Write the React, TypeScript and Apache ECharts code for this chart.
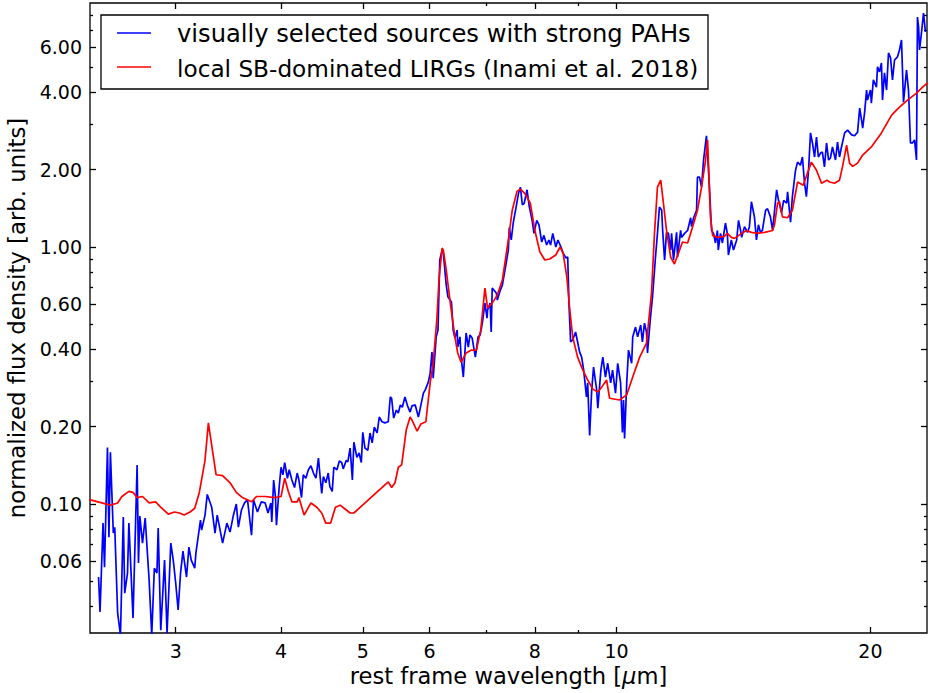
import React, { useEffect, useRef } from "react";
import * as echarts from "echarts";

// Axis ranges (wavelength in micron, normalized flux density)
const X_MIN = 2.374;
const X_MAX = 23.34;
const Y_MIN = 0.0315;
const Y_MAX = 8.9;

// Tick positions
const X_MAJOR = [3, 4, 5, 6, 8, 10, 20];
const X_MINOR = [7, 9];
const Y_MAJOR = [0.06, 0.1, 0.2, 0.4, 0.6, 1, 2, 4, 6];
const Y_MINOR = [0.04, 0.05, 0.07, 0.08, 0.09, 0.3, 0.5, 0.7, 0.8, 0.9, 3, 5, 7, 8];

// Stacked spectrum of the visually selected sources with strong PAHs
const WAVE_PAH = [
  2.43, 2.44, 2.46, 2.47, 2.49, 2.5, 2.51, 2.53, 2.54, 2.56, 2.58, 2.6, 2.61, 2.63, 2.64, 2.67, 2.7, 2.71, 2.72, 2.74,
  2.76, 2.79, 2.81, 2.83, 2.85, 2.86, 2.88, 2.91, 2.93, 2.96, 2.98, 3.0, 3.02, 3.04, 3.06, 3.09, 3.11, 3.13, 3.16, 3.17,
  3.21, 3.22, 3.25, 3.27, 3.31, 3.34, 3.36, 3.41, 3.45, 3.48, 3.51, 3.54, 3.56, 3.59, 3.62, 3.65, 3.69, 3.71, 3.75, 3.79,
  3.83, 3.86, 3.89, 3.9, 3.92, 3.94, 3.95, 3.98, 4.0, 4.02, 4.04, 4.07, 4.09, 4.12, 4.15, 4.18, 4.2, 4.23, 4.25, 4.28,
  4.31, 4.34, 4.37, 4.4, 4.43, 4.45, 4.47, 4.49, 4.52, 4.55, 4.57, 4.6, 4.62, 4.66, 4.69, 4.72, 4.74, 4.78, 4.8, 4.83,
  4.86, 4.88, 4.92, 4.95, 4.98, 5.0, 5.03, 5.07, 5.1, 5.13, 5.16, 5.2, 5.23, 5.27, 5.31, 5.36, 5.39, 5.41, 5.44, 5.48,
  5.51, 5.54, 5.57, 5.61, 5.65, 5.69, 5.72, 5.77, 5.82, 5.85, 5.9, 5.93, 5.98, 6.01, 6.04, 6.06, 6.11, 6.14, 6.17, 6.21,
  6.23, 6.28, 6.31, 6.37, 6.4, 6.43, 6.47, 6.48, 6.52, 6.54, 6.58, 6.63, 6.67, 6.7, 6.74, 6.8, 6.85, 6.89, 6.93, 6.98,
  7.02, 7.03, 7.08, 7.1, 7.12, 7.2, 7.22, 7.28, 7.32, 7.4, 7.44, 7.46, 7.5, 7.54, 7.6, 7.65, 7.69, 7.73, 7.77, 7.83,
  7.88, 7.94, 7.98, 8.04, 8.09, 8.15, 8.2, 8.26, 8.31, 8.35, 8.4, 8.47, 8.52, 8.59, 8.64, 8.71, 8.75, 8.78, 8.82, 8.87,
  8.94, 8.99, 9.04, 9.09, 9.14, 9.21, 9.24, 9.29, 9.34, 9.39, 9.47, 9.5, 9.58, 9.63, 9.7, 9.76, 9.84, 9.89, 9.97, 10.03,
  10.11, 10.16, 10.19, 10.22, 10.28, 10.33, 10.42, 10.45, 10.53, 10.59, 10.68, 10.73, 10.79, 10.85, 10.88, 10.97, 11.03,
  11.12, 11.18, 11.24, 11.31, 11.34, 11.4, 11.46, 11.52, 11.59, 11.62, 11.68, 11.78, 11.81, 11.91, 11.94, 12.04, 12.14,
  12.24, 12.27, 12.34, 12.44, 12.47, 12.54, 12.61, 12.68, 12.78, 12.82, 12.89, 12.96, 13.03, 13.1, 13.17, 13.2, 13.28,
  13.35, 13.46, 13.53, 13.57, 13.68, 13.76, 13.88, 13.95, 14.03, 14.07, 14.18, 14.3, 14.37, 14.45, 14.57, 14.65, 14.73,
  14.81, 14.89, 15.02, 15.1, 15.22, 15.31, 15.48, 15.56, 15.69, 15.78, 15.91, 15.95, 16.08, 16.16, 16.3, 16.39, 16.52,
  16.61, 16.7, 16.79, 16.89, 16.98, 17.07, 17.17, 17.26, 17.35, 17.45, 17.54, 17.64, 17.74, 17.84, 17.93, 18.03, 18.18,
  18.28, 18.38, 18.48, 18.64, 18.79, 19.0, 19.15, 19.31, 19.42, 19.52, 19.58, 19.68, 19.79, 19.84, 20.0, 20.05, 20.16,
  20.33, 20.39, 20.5, 20.61, 20.67, 20.78, 20.9, 21.01, 21.13, 21.24, 21.36, 21.53, 21.65, 21.77, 21.89, 22.07, 22.19,
  22.31, 22.43, 22.56, 22.68, 22.74, 22.81, 22.87, 22.99, 23.12, 23.24,
];
const FLUX_PAH = [
  0.052, 0.038, 0.0843, 0.0568, 0.166, 0.0743, 0.159, 0.0771, 0.0813, 0.0377, 0.0309, 0.089, 0.045, 0.0539, 0.0843, 0.036,
  0.142, 0.059, 0.0898, 0.0705, 0.0882, 0.0506, 0.0309, 0.0563, 0.0539, 0.0806, 0.0323, 0.0605, 0.0315, 0.0705, 0.0605,
  0.0493, 0.0387, 0.0539, 0.0656, 0.052, 0.068, 0.0605, 0.0563, 0.0644, 0.0866, 0.0792, 0.0906, 0.109, 0.0972, 0.0771,
  0.0906, 0.0705, 0.0843, 0.0778, 0.0898, 0.1, 0.0813, 0.0948, 0.101, 0.104, 0.0757, 0.104, 0.0931, 0.102, 0.101, 0.0923,
  0.101, 0.0851, 0.124, 0.106, 0.0828, 0.117, 0.139, 0.13, 0.145, 0.126, 0.136, 0.124, 0.116, 0.132, 0.124, 0.106, 0.13,
  0.126, 0.136, 0.141, 0.132, 0.126, 0.151, 0.128, 0.11, 0.128, 0.121, 0.132, 0.117, 0.112, 0.139, 0.136, 0.147, 0.145,
  0.137, 0.148, 0.146, 0.165, 0.124, 0.174, 0.152, 0.158, 0.145, 0.19, 0.165, 0.162, 0.189, 0.173, 0.199, 0.189, 0.218,
  0.209, 0.207, 0.209, 0.261, 0.258, 0.216, 0.232, 0.226, 0.243, 0.238, 0.261, 0.241, 0.228, 0.241, 0.243, 0.218, 0.236,
  0.27, 0.278, 0.298, 0.323, 0.39, 0.309, 0.447, 0.475, 0.89, 0.973, 0.947, 0.711, 0.639, 0.611, 0.475, 0.443, 0.475,
  0.408, 0.447, 0.373, 0.312, 0.463, 0.408, 0.455, 0.443, 0.373, 0.447, 0.455, 0.506, 0.605, 0.529, 0.569, 0.605, 0.467,
  0.692, 0.662, 0.622, 0.68, 0.711, 0.874, 0.973, 1.19, 1.065, 1.24, 1.43, 1.62, 1.71, 1.46, 1.48, 1.67, 1.43, 1.27, 1.13,
  1.27, 1.22, 1.046, 1.11, 1.018, 1.065, 1.018, 1.13, 1.0, 1.065, 1.0, 0.947, 0.906, 0.914, 0.605, 0.427, 0.435, 0.467,
  0.427, 0.39, 0.373, 0.332, 0.261, 0.296, 0.185, 0.273, 0.341, 0.278, 0.236, 0.332, 0.373, 0.312, 0.353, 0.296, 0.332,
  0.27, 0.353, 0.296, 0.19, 0.254, 0.18, 0.296, 0.397, 0.353, 0.447, 0.488, 0.447, 0.497, 0.427, 0.506, 0.467, 0.387,
  0.534, 0.639, 0.914, 1.13, 1.43, 1.39, 1.16, 0.89, 1.14, 1.13, 0.973, 1.13, 0.89, 1.14, 0.914, 1.16, 1.09, 1.13, 1.16,
  1.3, 1.2, 1.3, 1.39, 1.87, 1.87, 1.71, 2.18, 2.71, 2.32, 1.67, 1.16, 1.13, 1.037, 1.16, 0.973, 1.13, 1.037, 1.24, 1.13,
  0.931, 1.065, 0.973, 1.065, 1.27, 1.16, 1.09, 1.2, 1.14, 1.2, 1.5, 1.31, 1.065, 1.22, 1.14, 1.16, 1.39, 1.41, 1.31,
  1.16, 1.67, 1.52, 1.36, 1.52, 1.48, 1.64, 1.25, 1.57, 1.99, 2.14, 2.08, 2.24, 1.79, 1.57, 1.99, 2.78, 2.54, 2.24, 2.68,
  2.24, 2.32, 2.34, 2.05, 2.54, 2.18, 2.22, 2.45, 2.18, 2.56, 2.24, 2.45, 2.78, 2.85, 2.73, 2.71, 2.8, 3.47, 3.12, 2.9,
  3.32, 4.08, 3.73, 4.08, 3.63, 4.47, 4.19, 5.02, 4.8, 5.2, 3.73, 4.76, 4.08, 5.69, 5.44, 4.47, 5.34, 5.49, 5.84, 6.39,
  3.66, 4.88, 4.08, 2.54, 2.54, 2.61, 2.18, 7.85, 7.18, 5.84, 6.81, 8.14, 6.87,
];

// Template of local starburst-dominated LIRGs (Inami et al. 2018)
const WAVE_LIRG = [
  2.37, 2.51, 2.56, 2.59, 2.64, 2.67, 2.7, 2.74, 2.79, 2.84, 2.88, 2.94, 2.99, 3.03, 3.07, 3.12, 3.16, 3.2, 3.25, 3.28,
  3.32, 3.35, 3.41, 3.48, 3.54, 3.6, 3.69, 3.74, 3.83, 3.93, 4.0, 4.04, 4.08, 4.12, 4.18, 4.2, 4.26, 4.34, 4.41, 4.47,
  4.52, 4.58, 4.64, 4.7, 4.78, 4.83, 4.88, 5.36, 5.41, 5.46, 5.51, 5.56, 5.63, 5.69, 5.72, 5.8, 5.86, 5.94, 6.01, 6.06,
  6.12, 6.16, 6.21, 6.23, 6.28, 6.35, 6.43, 6.48, 6.54, 6.63, 6.72, 6.82, 6.9, 6.98, 7.03, 7.12, 7.22, 7.32, 7.44, 7.52,
  7.62, 7.69, 7.79, 7.9, 8.0, 8.11, 8.22, 8.33, 8.47, 8.57, 8.64, 8.73, 8.8, 8.87, 8.99, 9.12, 9.24, 9.37, 9.5, 9.6, 9.73,
  9.81, 10.08, 10.28, 10.45, 10.65, 10.85, 11.0, 11.09, 11.18, 11.28, 11.34, 11.46, 11.59, 11.71, 11.84, 11.97, 12.14,
  12.3, 12.47, 12.61, 12.75, 12.82, 12.85, 12.92, 13.0, 13.17, 13.42, 13.53, 13.68, 13.8, 14.07, 14.26, 14.45, 14.69,
  14.98, 15.31, 15.39, 15.52, 15.6, 15.73, 15.95, 16.16, 16.39, 16.65, 16.84, 17.02, 17.26, 17.5, 17.76, 17.89, 18.13,
  18.38, 18.53, 18.74, 18.89, 19.05, 19.31, 19.58, 20.05, 20.61, 21.19, 21.65, 22.13, 22.68, 23.06, 23.37,
];
const FLUX_LIRG = [
  0.104, 0.099, 0.101, 0.107, 0.112, 0.111, 0.106, 0.107, 0.101, 0.102, 0.0972, 0.0914, 0.0931, 0.0923, 0.0906, 0.0931,
  0.0963, 0.111, 0.148, 0.207, 0.158, 0.13, 0.129, 0.121, 0.111, 0.106, 0.102, 0.107, 0.107, 0.106, 0.107, 0.126, 0.112,
  0.102, 0.102, 0.106, 0.0906, 0.101, 0.0972, 0.0923, 0.0843, 0.0843, 0.0972, 0.099, 0.0948, 0.0923, 0.0923, 0.122, 0.116,
  0.121, 0.139, 0.142, 0.194, 0.218, 0.212, 0.192, 0.205, 0.209, 0.296, 0.353, 0.52, 0.764, 0.991, 0.973, 0.814, 0.605,
  0.447, 0.387, 0.356, 0.387, 0.397, 0.397, 0.475, 0.692, 0.579, 0.605, 0.65, 0.744, 1.065, 1.39, 1.65, 1.68, 1.61, 1.48,
  1.16, 0.956, 0.89, 0.898, 0.931, 1.0, 0.947, 0.764, 0.569, 0.447, 0.373, 0.332, 0.304, 0.28, 0.273, 0.285, 0.304, 0.258,
  0.254, 0.266, 0.312, 0.373, 0.423, 0.662, 1.13, 1.71, 1.82, 1.57, 1.16, 0.914, 0.859, 0.947, 1.046, 1.037, 1.19, 1.39,
  1.71, 2.18, 2.61, 2.12, 1.31, 1.11, 1.09, 1.1, 1.13, 1.09, 1.08, 1.13, 1.16, 1.14, 1.13, 1.14, 1.16, 1.22, 1.48, 1.5,
  1.31, 1.3, 1.39, 1.79, 1.74, 1.94, 2.14, 1.99, 1.77, 1.82, 1.79, 1.77, 1.82, 2.05, 2.49, 2.12, 2.06, 2.12, 2.28, 2.45,
  2.78, 3.26, 3.5, 3.73, 3.97, 4.19, 4.35,
];

const FONT = '"DejaVu Sans", "Bitstream Vera Sans", sans-serif';
const INK = "#000";
const lg = (v: number) => Math.log10(v);
const zip = (xs: number[], ys: number[]) => xs.map((x, i) => [x, ys[i]]);

// Tick-only value axes laid over the log axes, in decades
function tickAxis(
  position: string,
  min: number,
  max: number,
  values: number[],
  length: number,
  label: any
) {
  return {
    type: "value",
    position,
    min: lg(min),
    max: lg(max),
    axisLine: { show: false, onZero: false },
    splitLine: { show: false },
    axisTick: {
      show: true,
      inside: true,
      length,
      lineStyle: { color: INK, width: 1.3 },
      customValues: values.map(lg),
    },
    axisLabel: label
      ? {
          show: true,
          customValues: values.map(lg),
          color: INK,
          fontSize: 19,
          fontFamily: FONT,
          margin: 8,
          formatter: label,
        }
      : { show: false },
  };
}

const xFmt = (v: number) => String(Math.round(Math.pow(10, v)));
const yFmt = (v: number) => Math.pow(10, v).toFixed(2);

function buildOption(): any {
  const xBottom: any = tickAxis("bottom", X_MIN, X_MAX, X_MAJOR, 6, xFmt);
  xBottom.name = "rest frame wavelength [{mu|\u03bc}m]";
  xBottom.nameLocation = "middle";
  xBottom.nameGap = 27;
  xBottom.nameTextStyle = {
    color: INK,
    fontSize: 22.6,
    fontFamily: FONT,
    rich: { mu: { fontStyle: "italic", fontSize: 22.6, fontFamily: FONT, color: INK } },
  };

  const yLeft: any = tickAxis("left", Y_MIN, Y_MAX, Y_MAJOR, 6, yFmt);
  yLeft.name = "normalized flux density [arb. units]";
  yLeft.nameLocation = "middle";
  yLeft.nameGap = 55;
  yLeft.nameTextStyle = { color: INK, fontSize: 22.8, fontFamily: FONT };

  return {
    animation: false,
    backgroundColor: "#fff",
    textStyle: { fontFamily: FONT },
    grid: {
      left: 90,
      top: 3,
      width: 837,
      height: 630,
      show: true,
      borderColor: INK,
      borderWidth: 1.3,
      backgroundColor: "transparent",
      containLabel: false,
      outerBoundsMode: "none",
    },
    xAxis: [
      { type: "log", logBase: 10, min: X_MIN, max: X_MAX, show: false },
      xBottom,
      tickAxis("bottom", X_MIN, X_MAX, X_MINOR, 3, null),
      tickAxis("top", X_MIN, X_MAX, X_MAJOR, 6, null),
      tickAxis("top", X_MIN, X_MAX, X_MINOR, 3, null),
    ],
    yAxis: [
      { type: "log", logBase: 10, min: Y_MIN, max: Y_MAX, show: false },
      yLeft,
      tickAxis("left", Y_MIN, Y_MAX, Y_MINOR, 3, null),
      tickAxis("right", Y_MIN, Y_MAX, Y_MAJOR, 6, null),
      tickAxis("right", Y_MIN, Y_MAX, Y_MINOR, 3, null),
    ],
    series: [
      {
        name: "visually selected sources with strong PAHs",
        type: "line",
        xAxisIndex: 0,
        yAxisIndex: 0,
        data: zip(WAVE_PAH, FLUX_PAH),
        showSymbol: false,
        symbol: "none",
        clip: true,
        lineStyle: { color: "#0000ff", width: 1.7 },
        itemStyle: { color: "#0000ff" },
      },
      {
        name: "local SB-dominated LIRGs (Inami et al. 2018)",
        type: "line",
        xAxisIndex: 0,
        yAxisIndex: 0,
        data: zip(WAVE_LIRG, FLUX_LIRG),
        showSymbol: false,
        symbol: "none",
        clip: true,
        lineStyle: { color: "#ff0000", width: 1.7 },
        itemStyle: { color: "#ff0000" },
      },
    ],
    graphic: [
      {
        type: "rect",
        z: 100,
        shape: { x: 101, y: 15, width: 607, height: 74 },
        style: { fill: "#fff", stroke: INK, lineWidth: 1.3 },
      },
      {
        type: "line",
        z: 101,
        shape: { x1: 117, y1: 33, x2: 151, y2: 33 },
        style: { stroke: "#0000ff", lineWidth: 1.6 },
      },
      {
        type: "text",
        z: 101,
        x: 177,
        y: 34,
        style: {
          text: "visually selected sources with strong PAHs",
          fill: INK,
          fontSize: 24.2,
          fontFamily: FONT,
          verticalAlign: "middle",
        },
      },
      {
        type: "line",
        z: 101,
        shape: { x1: 117, y1: 67, x2: 151, y2: 67 },
        style: { stroke: "#ff0000", lineWidth: 1.6 },
      },
      {
        type: "text",
        z: 101,
        x: 177,
        y: 68,
        style: {
          text: "local SB-dominated LIRGs (Inami et al. 2018)",
          fill: INK,
          fontSize: 23.2,
          fontFamily: FONT,
          verticalAlign: "middle",
        },
      },
    ],
  };
}

export default function App() {
  const ref = useRef<HTMLDivElement>(null);
  useEffect(() => {
    if (!ref.current) return;
    const chart = echarts.init(ref.current, null, { renderer: "svg" });
    chart.setOption(buildOption());
    return () => chart.dispose();
  }, []);
  return (
    <div
      ref={ref}
      style={{ position: "fixed", left: 0, top: 0, width: 929, height: 693, background: "#fff" }}
    />
  );
}
